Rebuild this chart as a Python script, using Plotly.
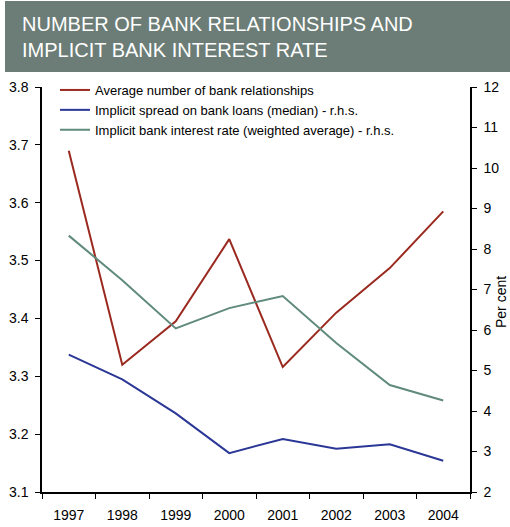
import plotly.graph_objects as go

years = ["1997", "1998", "1999", "2000", "2001", "2002", "2003", "2004"]
avg_relationships = [3.69, 3.32, 3.395, 3.537, 3.316, 3.41, 3.487, 3.585]
spread_median = [5.39, 4.78, 3.94, 2.96, 3.31, 3.07, 3.18, 2.77]
interest_rate = [8.33, 7.23, 6.04, 6.54, 6.84, 5.68, 4.64, 4.26]

names = [
    "Average number of bank relationships",
    "Implicit spread on bank loans (median) - r.h.s.",
    "Implicit bank interest rate (weighted average) - r.h.s.",
]
colors = ["#9a2a20", "#2b3796", "#5f8a7c"]

FONT = "Liberation Sans, Arial, sans-serif"

fig = go.Figure()
fig.add_trace(go.Scatter(x=years, y=avg_relationships, name=names[0], mode="lines",
                         line=dict(color=colors[0], width=2), yaxis="y"))
fig.add_trace(go.Scatter(x=years, y=spread_median, name=names[1], mode="lines",
                         line=dict(color=colors[1], width=2), yaxis="y2"))
fig.add_trace(go.Scatter(x=years, y=interest_rate, name=names[2], mode="lines",
                         line=dict(color=colors[2], width=2), yaxis="y2"))

W, H = 510, 527
L, R, T, B = 42, 40, 87, 35
pw, ph = W - L - R, H - T - B

def px_x(x):
    return (x - L) / pw

def px_y(y):
    return (H - B - y) / ph

fig.update_layout(
    width=W, height=H,
    margin=dict(l=L, r=R, t=T, b=B, autoexpand=False),
    paper_bgcolor="white", plot_bgcolor="white",
    font=dict(family=FONT, size=13, color="black"),
    showlegend=True,
    legend=dict(x=px_x(55), y=px_y(75), xanchor="left", yanchor="top",
                bgcolor="rgba(0,0,0,0)", font=dict(size=13, family=FONT),
                tracegroupgap=0, itemwidth=30),
    xaxis=dict(type="category", range=[-0.5, 7.5], tickson="boundaries",
               ticks="outside", ticklen=5,
               tickcolor="black", showline=True, linecolor="black", linewidth=1.5,
               showgrid=False, zeroline=False, ticklabelstandoff=9,
               tickfont=dict(size=14)),
    yaxis=dict(range=[3.1, 3.8], dtick=0.1, tick0=3.1, tickformat=".1f",
               ticks="outside", ticklen=5, tickcolor="black", showline=True,
               linecolor="black", linewidth=1.5, showgrid=False, zeroline=False,
               tickfont=dict(size=14), ticklabelstandoff=4),
    yaxis2=dict(range=[2, 12], dtick=1, tick0=2, overlaying="y", side="right",
                ticks="outside", ticklen=5, tickcolor="black", showline=True,
                linecolor="black", linewidth=1.5, showgrid=False, zeroline=False,
                tickfont=dict(size=14), ticklabelstandoff=4),
    shapes=[dict(type="rect", xref="paper", yref="paper",
                 x0=px_x(5), x1=px_x(512), y0=px_y(72), y1=px_y(1),
                 fillcolor="#6b7d76", line=dict(width=0), layer="below")],
    annotations=[
        dict(text="NUMBER OF BANK RELATIONSHIPS AND<br>IMPLICIT BANK INTEREST RATE",
             xref="paper", yref="paper", x=px_x(20), y=px_y(37),
             xanchor="left", yanchor="middle", align="left", showarrow=False,
             font=dict(size=20, color="white", family=FONT)),
        dict(text="Per cent", textangle=-90, xref="paper", yref="paper",
             x=px_x(501), y=px_y(302), xanchor="center", yanchor="middle",
             showarrow=False, font=dict(size=14, color="black", family=FONT)),
    ],
)

fig.write_html("out.html")
